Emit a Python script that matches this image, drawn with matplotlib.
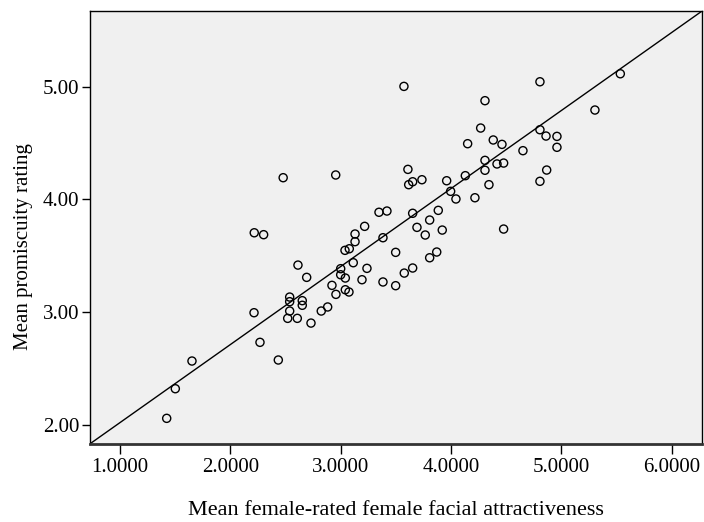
import numpy as np
import matplotlib.pyplot as plt

# mean female-rated facial attractiveness (x) vs mean promiscuity rating (y)
attractiveness = [
    2.479, 2.955, 2.217, 2.302, 3.347, 3.419, 3.217, 3.130, 3.130, 3.039,
    3.078, 3.383, 3.498, 3.573, 4.805, 4.307, 5.533, 5.303, 4.268, 4.150,
    4.382, 4.461, 4.805, 4.860, 4.959, 4.959, 4.651, 4.307, 4.307, 4.416,
    4.476, 4.866, 4.805, 4.343, 4.129, 3.960, 3.736, 3.609, 3.616, 3.652,
    3.996, 4.044, 4.216, 4.476, 3.652, 3.884, 3.806, 3.691, 3.766, 3.920,
    3.870, 3.806, 3.652, 3.576, 3.498, 2.613, 2.692, 3.114, 3.000, 3.000,
    3.042, 3.238, 3.193, 3.383, 2.921, 2.957, 3.042, 3.075, 2.538, 2.538,
    2.652, 2.652, 2.538, 2.520, 2.607, 2.731, 2.824, 2.882, 2.215, 2.269,
    2.435, 1.653, 1.502, 1.424,
]
promiscuity = [
    4.192, 4.216, 3.703, 3.686, 3.885, 3.896, 3.760, 3.692, 3.624, 3.547,
    3.561, 3.659, 3.529, 5.003, 5.044, 4.876, 5.115, 4.793, 4.633, 4.494,
    4.527, 4.488, 4.618, 4.562, 4.559, 4.462, 4.432, 4.346, 4.258, 4.314,
    4.322, 4.260, 4.160, 4.130, 4.210, 4.165, 4.174, 4.266, 4.130, 4.156,
    4.071, 4.003, 4.014, 3.736, 3.876, 3.902, 3.816, 3.751, 3.683, 3.727,
    3.532, 3.481, 3.390, 3.345, 3.233, 3.416, 3.307, 3.437, 3.384, 3.330,
    3.301, 3.387, 3.286, 3.266, 3.236, 3.156, 3.197, 3.177, 3.132, 3.091,
    3.100, 3.059, 3.008, 2.943, 2.943, 2.901, 3.008, 3.044, 2.993, 2.730,
    2.573, 2.564, 2.318, 2.055,
]
# fit line as drawn in the original
fit_slope = 0.6932
fit_intercept = 1.3234
x_ticks = [1, 2, 3, 4, 5, 6]
y_ticks = [2, 3, 4, 5]

plt.rcParams["font.family"] = ["Liberation Serif", "DejaVu Serif"]

fig = plt.figure(figsize=(7.04, 5.22), dpi=100)
ax = fig.add_axes([0.1274, 0.1494, 0.8693, 0.8290])
ax.set_facecolor("#f0f0f0")

x = np.array(attractiveness)
y = np.array(promiscuity)
ax.scatter(x, y, s=34, facecolors="none", edgecolors="black", linewidths=1.0, zorder=3)

xs = np.array([0.5, 6.5])
ax.plot(xs, fit_intercept + fit_slope * xs, color="black", lw=1.0, zorder=2)

ax.set_xlim(0.7264, 6.270)
ax.set_ylim(1.827, 5.670)
ax.set_xticks(x_ticks)
ax.set_xticklabels([f"{v:.4f}" for v in x_ticks])
ax.set_yticks(y_ticks)
ax.set_yticklabels([f"{v:.2f}" for v in y_ticks])
ax.tick_params(axis="x", direction="out", length=7, width=1, labelsize=15, pad=3)
ax.tick_params(axis="y", direction="out", length=5.5, width=1, labelsize=15, pad=2)

for side in ["top", "right", "left"]:
    ax.spines[side].set_color("black")
    ax.spines[side].set_linewidth(1.0)
ax.spines["bottom"].set_color("#333333")
ax.spines["bottom"].set_linewidth(2.0)

fig.text(0.562, 0.013, "Mean female-rated female facial attractiveness",
         fontsize=16, ha="center", va="baseline")
fig.text(0.033, 0.528, "Mean promiscuity rating",
         fontsize=15, ha="center", va="center", rotation=90)

fig.savefig("out.png", dpi=100)
